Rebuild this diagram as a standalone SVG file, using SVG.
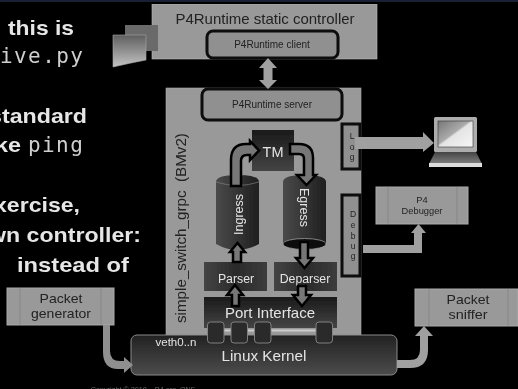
<svg xmlns="http://www.w3.org/2000/svg" width="518" height="389" viewBox="0 0 518 389">
<style>
text{font-family:"Liberation Sans",Arial,sans-serif;text-anchor:middle}
.b{font-weight:bold;fill:#e6e6e6;font-size:20.5px;text-anchor:start}
.m{font-family:"DejaVu Sans Mono","Liberation Mono",monospace;fill:#cfcfcf;font-size:21px;letter-spacing:1.4px;text-anchor:start}
.g{fill:#999}
.lt{fill:#e4e4e4}
.tx{fill:#222}
.ol{fill:#909090;stroke:#0a0a0a;stroke-width:3}
.bevel{fill:#999;stroke:#aaa;stroke-width:1}
.fl{fill:#a0a0a0;stroke:none}
.ar{fill:#777;stroke:#000;stroke-width:2.500;stroke-linejoin:miter}
.ln{stroke:#848484;stroke-width:.8;fill:none}
</style>
<defs>
<filter id="soft" x="0" y="0" width="100%" height="100%"><feGaussianBlur stdDeviation="0.4"/></filter>
<linearGradient id="d" x1="0" y1="0" x2="0" y2="1"><stop offset="0" stop-color="#1a1a1a"/><stop offset="1" stop-color="#444"/></linearGradient>
<linearGradient id="h" x1="0" y1="0" x2="1" y2="0"><stop offset="0" stop-color="#444"/><stop offset=".5" stop-color="#2a2a2a"/><stop offset="1" stop-color="#3c3c3c"/></linearGradient>
<linearGradient id="c" x1="0" y1="0" x2="1" y2="0"><stop offset="0" stop-color="#4a4a4a"/><stop offset="1" stop-color="#1f1f1f"/></linearGradient>
<linearGradient id="k" x1="0" y1="0" x2="0" y2="1"><stop offset="0" stop-color="#222"/><stop offset="1" stop-color="#4c4c4c"/></linearGradient>
<linearGradient id="doc" x1="0" y1="0" x2="0" y2="1"><stop offset="0" stop-color="#5e5e5e"/><stop offset="1" stop-color="#c4c4c4"/></linearGradient>
<linearGradient id="sc" x1="0" y1="0" x2="1" y2="1"><stop offset="0" stop-color="#777"/><stop offset=".45" stop-color="#aaa"/><stop offset=".5" stop-color="#e4e4e4"/><stop offset="1" stop-color="#f6f6f6"/></linearGradient>
<linearGradient id="lb" x1="0" y1="0" x2="0" y2="1"><stop offset="0" stop-color="#444"/><stop offset="1" stop-color="#808080"/></linearGradient>
</defs>
<rect width="518" height="389" fill="#000"/>
<rect width="518" height="2" fill="#1a1f33"/>
<g filter="url(#soft)">
<g id="intro-text">
<text class="b" x="8" y="35" textLength="66" lengthAdjust="spacingAndGlyphs">this is</text>
<text class="m" x="0" y="63">ive.py</text>
<text class="b" x="-11" y="123" textLength="98" lengthAdjust="spacingAndGlyphs">standard</text>
<text class="b" x="-5" y="152" textLength="26" lengthAdjust="spacingAndGlyphs">ke</text>
<text class="m" x="28" y="152">ping</text>
<text class="b" x="-6" y="212" textLength="86" lengthAdjust="spacingAndGlyphs">xercise,</text>
<text class="b" x="-12" y="242" textLength="153" lengthAdjust="spacingAndGlyphs">wn controller:</text>
<text class="b" x="17" y="272" textLength="112" lengthAdjust="spacingAndGlyphs">instead of</text>
</g>
<g id="controller">
<rect x="152" y="4" width="225" height="55" class="g" stroke="#bbb" stroke-width=".6"/>
<text x="265" y="24" font-size="15" class="tx">P4Runtime static controller</text>
<rect x="207" y="31" width="131" height="27" rx="6" class="ol"/>
<text x="272" y="48" font-size="10" class="tx">P4Runtime client</text>
</g>
<g id="documents">
<rect x="125" y="25" width="33" height="26" fill="#6a6a6a"/>
<path d="M113 35H146V60Q130 63 113 67Z" fill="url(#doc)" stroke="#aaa" stroke-width=".6"/>
</g>
<g id="switch">
<rect x="166" y="88" width="195" height="247" class="g" stroke="#aaa" stroke-width=".6"/>
<text transform="translate(186 323) rotate(-90)" font-size="15.200" class="tx" style="text-anchor:start;white-space:pre">simple_switch_grpc  (BMv2)</text>
</g>
<g id="server">
<rect x="202" y="89" width="140" height="31" rx="6" class="ol"/>
<text x="272" y="108" font-size="10" class="tx">P4Runtime server</text>
</g>
<g id="log">
<rect x="342" y="124" width="18" height="45" class="ol"/>
<text x="352" y="139" font-size="8.500" class="tx">L</text>
<text x="352" y="150" font-size="8.500" class="tx">o</text>
<text x="352" y="160" font-size="8.500" class="tx">g</text>
</g>
<g id="debug">
<rect x="342" y="195" width="18" height="81" class="ol"/>
<text x="353" y="217" font-size="8.500" class="tx">D</text>
<text x="353" y="228" font-size="8.500" class="tx">e</text>
<text x="353" y="239" font-size="8.500" class="tx">b</text>
<text x="353" y="249" font-size="8.500" class="tx">u</text>
<text x="353" y="259" font-size="8.500" class="tx">g</text>
</g>
<g id="tm">
<rect x="252" y="130" width="42" height="41" fill="url(#d)"/>
<text x="273" y="157" font-size="14.500" class="lt">TM</text>
</g>
<g id="ingress">
<path d="M216 182Q216 175 237.500 175T259 182V244Q237.500 256 216 244Z" fill="url(#c)"/>
<path d="M216 182Q237.500 189 259 182" stroke="#888" stroke-width=".6" fill="none"/>
<text transform="translate(243 235) rotate(-90)" font-size="12.500" class="lt" style="text-anchor:start">Ingress</text>
</g>
<g id="egress">
<path d="M283 182Q283 175 304.500 175T326 182V244H283Z" fill="url(#c)"/>
<ellipse cx="304.500" cy="244" rx="21.500" ry="5.500" fill="#111" stroke="#aaa" stroke-width=".7"/>
<text transform="translate(300 188) rotate(90)" font-size="12.500" class="lt" style="text-anchor:start">Egress</text>
</g>
<g id="parser">
<rect x="204" y="262" width="63" height="29" fill="url(#h)"/>
<text x="236" y="283" font-size="12.300" class="lt">Parser</text>
</g>
<g id="deparser">
<rect x="274" y="262" width="63" height="29" fill="url(#h)"/>
<text x="305" y="283" font-size="12.300" class="lt">Deparser</text>
</g>
<g id="port-interface">
<rect x="204" y="297" width="133" height="31" fill="url(#d)"/>
<text x="270" y="318" font-size="15" class="lt">Port Interface</text>
</g>
<g id="kernel">
<rect x="131" y="335" width="266" height="40" rx="6" fill="url(#k)" stroke="#8a8a8a" stroke-width="1"/>
<text x="176" y="346" font-size="11.500" class="lt">veth0..n</text>
<text x="264" y="361" font-size="15.300" class="lt">Linux Kernel</text>
</g>
<g id="ports" fill="#2c2c2c" stroke="#888" stroke-width=".9">
<path d="M222 330.500H318" stroke="#ccc" stroke-width="2" fill="none"/>
<rect x="207.500" y="322" width="16.500" height="21" rx="3"/>
<rect x="231" y="322" width="16.500" height="21" rx="3"/>
<rect x="254.500" y="322" width="16.500" height="21" rx="3"/>
<rect x="316" y="322" width="16.500" height="21" rx="3"/>
</g>
<g id="debugger">
<rect x="376" y="187" width="92" height="37" class="bevel"/>
<path class="ln" d="M388 187V224M457 187V224"/>
<text x="422" y="203" font-size="9.300" class="tx">P4</text>
<text x="422" y="214" font-size="9.300" class="tx">Debugger</text>
</g>
<g id="generator">
<rect x="7" y="288" width="107" height="37" class="bevel"/>
<path class="ln" d="M20 288V325M101 288V325"/>
<text x="61" y="303" font-size="13" textLength="43" lengthAdjust="spacingAndGlyphs" class="tx">Packet</text>
<text x="61" y="318" font-size="13" textLength="60" lengthAdjust="spacingAndGlyphs" class="tx">generator</text>
</g>
<g id="sniffer">
<rect x="415" y="289" width="103" height="37" class="bevel"/>
<path class="ln" d="M429 289V326M508 289V326"/>
<text x="468" y="304" font-size="13" textLength="43" lengthAdjust="spacingAndGlyphs" class="tx">Packet</text>
<text x="468" y="318.500" font-size="13" textLength="39" lengthAdjust="spacingAndGlyphs" class="tx">sniffer</text>
</g>
<g id="laptop">
<rect x="434" y="117" width="43" height="35" rx="1.500" fill="#adadad"/>
<rect x="438" y="121" width="35" height="26" fill="url(#sc)" stroke="#333" stroke-width=".6"/>
<path d="M435 152H476L482 164H429Z" fill="url(#lb)"/>
<rect x="429" y="163" width="53" height="4" fill="#ddd"/>
</g>
<g id="connectors">
<path class="fl" d="M268 58L277 68H272.500V80H277L268 89L259 80H263.500V68H259Z"/>
<path class="fl" d="M355 137H423V132L434 143L423 152V149H355Z"/>
<path class="fl" d="M363 245H414V233H411L418.500 224L426 233H422V253H363Z"/>
<path d="M103 325H110V351Q110 361 120 361H124V357L133 365L124 373V369H118Q103 369 103 352Z" fill="#8f8f8f"/>
<path class="fl" d="M397 360H410Q420 360 420 350V336H415L424 326L433 336H428V350Q428 368 410 368H397Z"/>
<path class="ar" d="M231 186V160Q231 144 246 144H250V141L259 150.500L250 160V155H247Q241 155 241 161V186Z"/>
<path class="ar" d="M290 144H299Q313 144 313 158V175H316L306.500 185L297 175H304V159Q304 154 299 154H290Z"/>
<path class="ar" d="M233 262V252H230L237.500 243L245 252H241V262Z"/>
<path class="ar" d="M300 242H308V258H313L304.500 268L296 258H300Z"/>
<path class="ar" d="M232 306V295H227L235 285L243 295H239V306Z"/>
<path class="ar" d="M298 286H306V295H311L302 306L293 295H298Z"/>
</g>
<text id="copyright" x="143" y="392" font-size="7.200" fill="#666">Copyright © 2018 – P4.org, ONF</text>
</g>
</svg>
